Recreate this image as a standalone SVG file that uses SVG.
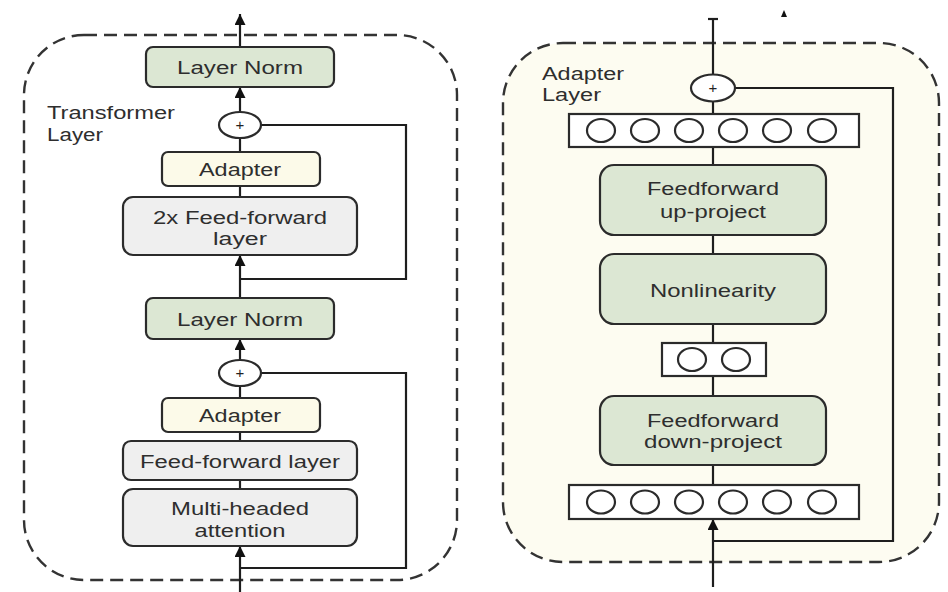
<svg xmlns="http://www.w3.org/2000/svg" width="948" height="592" viewBox="0 0 948 592">
<style>
.panel{stroke:#333;stroke-width:2.4;stroke-dasharray:13 7}
.box{stroke:#2b2b2b;stroke-width:2.2}
.green{fill:#dce7d3}
.cream{fill:#fcfae9}
.gray{fill:#efefef}
.white{fill:#fff}
.t{font-family:"Liberation Sans",Arial,sans-serif;font-size:17.5px;fill:#2e2e2e;text-anchor:middle}
.tl{font-family:"Liberation Sans",Arial,sans-serif;font-size:17.5px;fill:#2e2e2e}
.c{fill:none;stroke:#1e1e1e;stroke-width:2.2}
.plus{font-family:"Liberation Sans",Arial,sans-serif;font-size:15px;fill:#222;text-anchor:middle}
.n{fill:#fff;stroke:#2b2b2b;stroke-width:2.2}
</style>
<defs>
<marker id="arr" viewBox="0 0 10 10" refX="10" refY="5" markerWidth="11" markerHeight="11" markerUnits="userSpaceOnUse" orient="auto">
<path d="M0,0 L10,5 L0,10 z" fill="#111"/>
</marker>
</defs>
<rect width="948" height="592" fill="#fff"/>

<g id="transformer-panel">
<rect class="panel" x="24" y="35" width="433" height="545" rx="60" fill="#fff"/>
<text class="tl" x="47" y="119" textLength="128" lengthAdjust="spacingAndGlyphs">Transformer</text>
<text class="tl" x="47" y="141" textLength="56" lengthAdjust="spacingAndGlyphs">Layer</text>
</g>

<g id="adapter-panel">
<rect class="panel" x="503" y="43" width="436" height="519" rx="60" fill="#fdfcf1"/>
<text class="tl" x="542" y="80" textLength="82" lengthAdjust="spacingAndGlyphs">Adapter</text>
<text class="tl" x="542" y="101" textLength="59" lengthAdjust="spacingAndGlyphs">Layer</text>
</g>

<g id="connectors">
<!-- left -->
<line class="c" x1="240" y1="47" x2="240" y2="14" marker-end="url(#arr)"/>
<line class="c" x1="240" y1="112" x2="240" y2="87" marker-end="url(#arr)"/>
<line class="c" x1="240" y1="138" x2="240" y2="152"/>
<line class="c" x1="240" y1="186" x2="240" y2="197"/>
<line class="c" x1="240" y1="298" x2="240" y2="255" marker-end="url(#arr)"/>
<polyline class="c" points="261,125 406,125 406,279 240,279"/>
<line class="c" x1="240" y1="360" x2="240" y2="339" marker-end="url(#arr)"/>
<line class="c" x1="240" y1="386" x2="240" y2="398"/>
<line class="c" x1="240" y1="432" x2="240" y2="441"/>
<line class="c" x1="240" y1="480" x2="240" y2="489"/>
<line class="c" x1="240" y1="592" x2="240" y2="546" marker-end="url(#arr)"/>
<polyline class="c" points="261,373 406,373 406,568 240,568"/>
<!-- right -->
<line class="c" x1="713" y1="75" x2="713" y2="19"/>
<line class="c" x1="708" y1="19" x2="718" y2="19"/>
<path d="M781,17 L784,10 L787,17 z" fill="#111"/>
<line class="c" x1="713" y1="101" x2="713" y2="114"/>
<line class="c" x1="713" y1="147" x2="713" y2="165"/>
<line class="c" x1="713" y1="235" x2="713" y2="254"/>
<line class="c" x1="713" y1="324" x2="713" y2="343"/>
<line class="c" x1="713" y1="376" x2="713" y2="396"/>
<line class="c" x1="713" y1="465" x2="713" y2="485"/>
<line class="c" x1="713" y1="587" x2="713" y2="519" marker-end="url(#arr)"/>
<polyline class="c" points="736,88 893,88 893,541 713,541"/>
</g>

<g id="layer-norm-top">
<rect class="box green" x="146" y="47" width="188" height="40" rx="7"/>
<text class="t" x="240" y="74" textLength="126" lengthAdjust="spacingAndGlyphs">Layer Norm</text>
</g>
<g id="add-top">
<ellipse class="n" cx="240" cy="125" rx="21" ry="13"/>
<text class="plus" x="240" y="130">+</text>
</g>
<g id="adapter-top">
<rect class="box cream" x="162" y="152" width="158" height="34" rx="6"/>
<text class="t" x="240" y="176" textLength="82" lengthAdjust="spacingAndGlyphs">Adapter</text>
</g>
<g id="ff2x">
<rect class="box gray" x="123" y="197" width="234" height="58" rx="10"/>
<text class="t" x="240" y="224" textLength="174" lengthAdjust="spacingAndGlyphs">2x Feed-forward</text>
<text class="t" x="240" y="245" textLength="54" lengthAdjust="spacingAndGlyphs">layer</text>
</g>
<g id="layer-norm-bottom">
<rect class="box green" x="146" y="298" width="188" height="41" rx="7"/>
<text class="t" x="240" y="326" textLength="126" lengthAdjust="spacingAndGlyphs">Layer Norm</text>
</g>
<g id="add-bottom">
<ellipse class="n" cx="240" cy="373" rx="21" ry="13"/>
<text class="plus" x="240" y="378">+</text>
</g>
<g id="adapter-bottom">
<rect class="box cream" x="162" y="398" width="158" height="34" rx="6"/>
<text class="t" x="240" y="422" textLength="82" lengthAdjust="spacingAndGlyphs">Adapter</text>
</g>
<g id="ff-layer">
<rect class="box gray" x="123" y="441" width="234" height="39" rx="8"/>
<text class="t" x="240" y="468" textLength="200" lengthAdjust="spacingAndGlyphs">Feed-forward layer</text>
</g>
<g id="mha">
<rect class="box gray" x="123" y="489" width="234" height="57" rx="10"/>
<text class="t" x="240" y="515" textLength="138" lengthAdjust="spacingAndGlyphs">Multi-headed</text>
<text class="t" x="240" y="537" textLength="91" lengthAdjust="spacingAndGlyphs">attention</text>
</g>

<g id="add-adapter">
<ellipse class="n" cx="713" cy="88" rx="22" ry="13.5"/>
<text class="plus" x="713" y="93">+</text>
</g>
<g id="units-top">
<rect class="box white" x="569" y="114" width="290" height="33"/>
<ellipse class="n" cx="601" cy="130.5" rx="14" ry="11.5"/>
<ellipse class="n" cx="645" cy="130.5" rx="14" ry="11.5"/>
<ellipse class="n" cx="689" cy="130.5" rx="14" ry="11.5"/>
<ellipse class="n" cx="733" cy="130.5" rx="14" ry="11.5"/>
<ellipse class="n" cx="777" cy="130.5" rx="14" ry="11.5"/>
<ellipse class="n" cx="822" cy="130.5" rx="14" ry="11.5"/>
</g>
<g id="ff-up">
<rect class="box green" x="600" y="165" width="226" height="70" rx="14"/>
<text class="t" x="713" y="195" textLength="132" lengthAdjust="spacingAndGlyphs">Feedforward</text>
<text class="t" x="713" y="218" textLength="106" lengthAdjust="spacingAndGlyphs">up-project</text>
</g>
<g id="nonlinearity">
<rect class="box green" x="600" y="254" width="226" height="70" rx="14"/>
<text class="t" x="713" y="297" textLength="126" lengthAdjust="spacingAndGlyphs">Nonlinearity</text>
</g>
<g id="units-mid">
<rect class="box white" x="662" y="343" width="104" height="33"/>
<ellipse class="n" cx="692" cy="359.5" rx="14" ry="11.5"/>
<ellipse class="n" cx="736" cy="359.5" rx="14" ry="11.5"/>
</g>
<g id="ff-down">
<rect class="box green" x="600" y="396" width="226" height="69" rx="14"/>
<text class="t" x="713" y="427" textLength="132" lengthAdjust="spacingAndGlyphs">Feedforward</text>
<text class="t" x="713" y="448" textLength="138" lengthAdjust="spacingAndGlyphs">down-project</text>
</g>
<g id="units-bottom">
<rect class="box white" x="569" y="485" width="290" height="34"/>
<ellipse class="n" cx="601" cy="502" rx="14" ry="11.5"/>
<ellipse class="n" cx="645" cy="502" rx="14" ry="11.5"/>
<ellipse class="n" cx="689" cy="502" rx="14" ry="11.5"/>
<ellipse class="n" cx="733" cy="502" rx="14" ry="11.5"/>
<ellipse class="n" cx="777" cy="502" rx="14" ry="11.5"/>
<ellipse class="n" cx="822" cy="502" rx="14" ry="11.5"/>
</g>
</svg>
